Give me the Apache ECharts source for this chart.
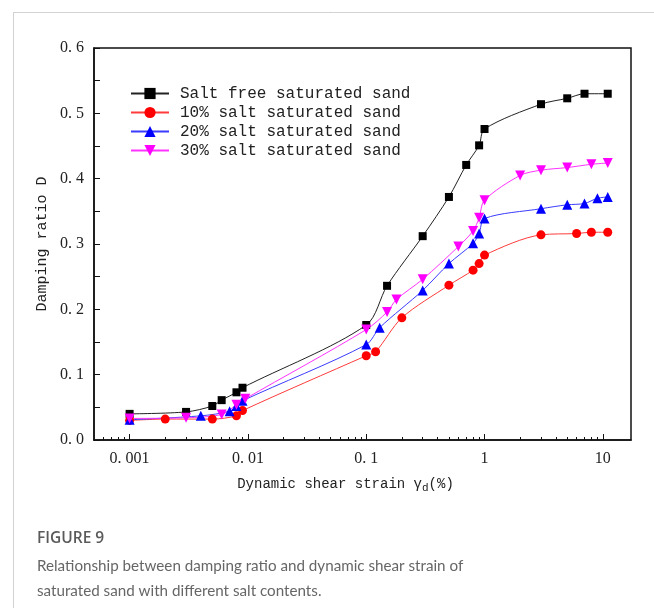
<!DOCTYPE html>
<html>
<head>
<meta charset="utf-8">
<script src="https://cdn.jsdelivr.net/npm/echarts@6/dist/echarts.min.js"></script>
<style>
  html, body { margin: 0; padding: 0; background: #fff; }
  #chart { width: 654px; height: 608px; }
</style>
</head>
<body>
<div id="chart"></div>
<script>
// Damping ratio D against dynamic shear strain (%) for four salt contents
const seriesNames = [
  'Salt free saturated sand',
  '10% salt saturated sand',
  '20% salt saturated sand',
  '30% salt saturated sand'
];

const strainFree = [0.001, 0.003, 0.005, 0.006, 0.008, 0.009, 0.1, 0.15, 0.3, 0.5, 0.7, 0.9, 1, 3, 5, 7, 11];
const dampFree   = [0.040, 0.043, 0.052, 0.061, 0.073, 0.080, 0.176, 0.236, 0.312, 0.372, 0.421, 0.451, 0.476, 0.514, 0.523, 0.530, 0.530];

const strain10 = [0.001, 0.002, 0.005, 0.008, 0.009, 0.1, 0.12, 0.2, 0.5, 0.8, 0.9, 1, 3, 6, 8, 11];
const damp10   = [0.030, 0.032, 0.032, 0.037, 0.045, 0.129, 0.135, 0.187, 0.237, 0.260, 0.270, 0.283, 0.314, 0.316, 0.318, 0.318];

const strain20 = [0.001, 0.004, 0.007, 0.008, 0.009, 0.1, 0.13, 0.3, 0.5, 0.8, 0.9, 1, 3, 5, 7, 9, 11];
const damp20   = [0.031, 0.037, 0.044, 0.052, 0.060, 0.146, 0.172, 0.229, 0.270, 0.301, 0.316, 0.339, 0.354, 0.360, 0.362, 0.370, 0.372];

const strain30 = [0.001, 0.003, 0.006, 0.008, 0.0095, 0.1, 0.15, 0.18, 0.3, 0.6, 0.8, 0.9, 1, 2, 3, 5, 8, 11];
const damp30   = [0.033, 0.034, 0.039, 0.054, 0.063, 0.169, 0.196, 0.215, 0.246, 0.296, 0.320, 0.340, 0.367, 0.405, 0.413, 0.417, 0.422, 0.424];

// Axis ticks
const xMajorTicks = [0.001, 0.01, 0.1, 1, 10];
const xMinorTicks = [
  0.0006, 0.0007, 0.0008, 0.0009,
  0.002, 0.003, 0.004, 0.005, 0.006, 0.007, 0.008, 0.009,
  0.02, 0.03, 0.04, 0.05, 0.06, 0.07, 0.08, 0.09,
  0.2, 0.3, 0.4, 0.5, 0.6, 0.7, 0.8, 0.9,
  2, 3, 4, 5, 6, 7, 8, 9
];
const xMin = 0.0005, xMax = 17.3;
const yMin = 0, yMax = 0.6, yStep = 0.1;

const captionTitle = 'FIGURE 9';
const captionLines = [
  'Relationship between damping ratio and dynamic shear strain of',
  'saturated sand with different salt contents.'
];

const MONO = '"Liberation Mono", "DejaVu Sans Mono", monospace';
const SERIF = '"Liberation Serif", "DejaVu Serif", serif';

function pairs(xs, ys) { return xs.map((x, i) => [x, ys[i]]); }

function lineSeries(name, xs, ys, color, lineColor, symbol, size, rotate) {
  return {
    name: name,
    type: 'line',
    data: pairs(xs, ys),
    smooth: 0.3,
    symbol: symbol,
    symbolSize: size,
    symbolRotate: rotate || 0,
    showAllSymbol: true,
    lineStyle: { color: lineColor, width: 1 },
    itemStyle: { color: color },
    emphasis: { disabled: true },
    z: 3
  };
}

const chart = echarts.init(document.getElementById('chart'), null, { renderer: 'canvas' });

const tickLabel = v => String(+v.toFixed(4)).replace('.', '. ');

chart.setOption({
  animation: false,
  backgroundColor: '#fff',
  grid: {
    left: 94, right: 23, top: 48, bottom: 168,
    show: true, borderColor: '#111', borderWidth: 1.5,
    containLabel: false
  },
  legend: {
    orient: 'vertical',
    left: 130, top: 85.5, padding: 0,
    itemWidth: 38, itemHeight: 14, itemGap: 3,
    textStyle: { fontFamily: MONO, fontSize: 16, color: '#222', padding: [0, 0, 0, 6] },
    selectedMode: false,
    data: seriesNames
  },
  xAxis: [
    {
      type: 'log', logBase: 10, min: xMin, max: xMax,
      position: 'bottom',
      name: '{t|Dynamic shear strain γ}{s|d}{t|(%)}',
      nameLocation: 'middle', nameGap: 35,
      nameTextStyle: {
        padding: [0, 34, 0, 0],
        rich: {
          t: { fontFamily: MONO, fontSize: 14, color: '#222' },
          s: { fontFamily: MONO, fontSize: 11, color: '#222', padding: [8, 0, 0, 0] }
        }
      },
      axisLine: { show: true, lineStyle: { color: '#111', width: 1.5 } },
      axisTick: { show: true, inside: true, length: 6, customValues: xMajorTicks, lineStyle: { color: '#111', width: 1 } },
      axisLabel: { show: true, customValues: xMajorTicks, margin: 11, formatter: tickLabel,
        fontFamily: SERIF, fontSize: 16, color: '#222' },
      splitLine: { show: false },
      minorTick: { show: false }
    },
    {
      type: 'log', logBase: 10, min: xMin, max: xMax,
      position: 'bottom', offset: 0,
      axisLine: { show: false },
      axisTick: { show: true, inside: true, length: 3, customValues: xMinorTicks, lineStyle: { color: '#111', width: 1 } },
      axisLabel: { show: false },
      splitLine: { show: false }
    }
  ],
  yAxis: {
    type: 'value', min: yMin, max: yMax, interval: yStep,
    name: 'Damping ratio D',
    nameLocation: 'middle', nameGap: 39, nameRotate: 90,
    nameTextStyle: { fontFamily: MONO, fontSize: 15, color: '#222' },
    axisLine: { show: true, lineStyle: { color: '#111', width: 1.5 } },
    axisTick: { show: true, inside: true, length: 6, lineStyle: { color: '#111', width: 1 } },
    minorTick: { show: true, splitNumber: 2, length: 6, lineStyle: { color: '#111', width: 1 } },
    axisLabel: { margin: 10, formatter: v => v.toFixed(1).replace('.', '. '),
      fontFamily: SERIF, fontSize: 16, color: '#222' },
    splitLine: { show: false }
  },
  series: [
    lineSeries(seriesNames[0], strainFree, dampFree, '#000000', '#222222', 'rect', 8),
    lineSeries(seriesNames[1], strain10, damp10, '#ff0000', '#ff3b3b', 'circle', 9),
    lineSeries(seriesNames[2], strain20, damp20, '#0000ff', '#3b3bff', 'triangle', 10),
    lineSeries(seriesNames[3], strain30, damp30, '#ff00ff', '#ff33ff', 'triangle', 10, 180)
  ],
  graphic: [
    { type: 'line', shape: { x1: 13, y1: 12.5, x2: 654, y2: 12.5 }, style: { stroke: '#d2d2d2', lineWidth: 1 }, silent: true },
    { type: 'line', shape: { x1: 13.5, y1: 12, x2: 13.5, y2: 608 }, style: { stroke: '#d2d2d2', lineWidth: 1 }, silent: true },
    { type: 'text', left: 37, top: 531, style: { text: captionTitle, fontFamily: '"Open Sans", Lato, sans-serif', fontSize: 15.5, fontWeight: 600, fill: '#5a5a5a' }, silent: true },
    { type: 'text', left: 37, top: 559, style: { text: captionLines[0], fontFamily: 'Lato, "Open Sans", sans-serif', fontSize: 15.2, fill: '#666' }, silent: true },
    { type: 'text', left: 37, top: 584, style: { text: captionLines[1], fontFamily: 'Lato, "Open Sans", sans-serif', fontSize: 15.2, fill: '#666' }, silent: true }
  ]
});
</script>
</body>
</html>
